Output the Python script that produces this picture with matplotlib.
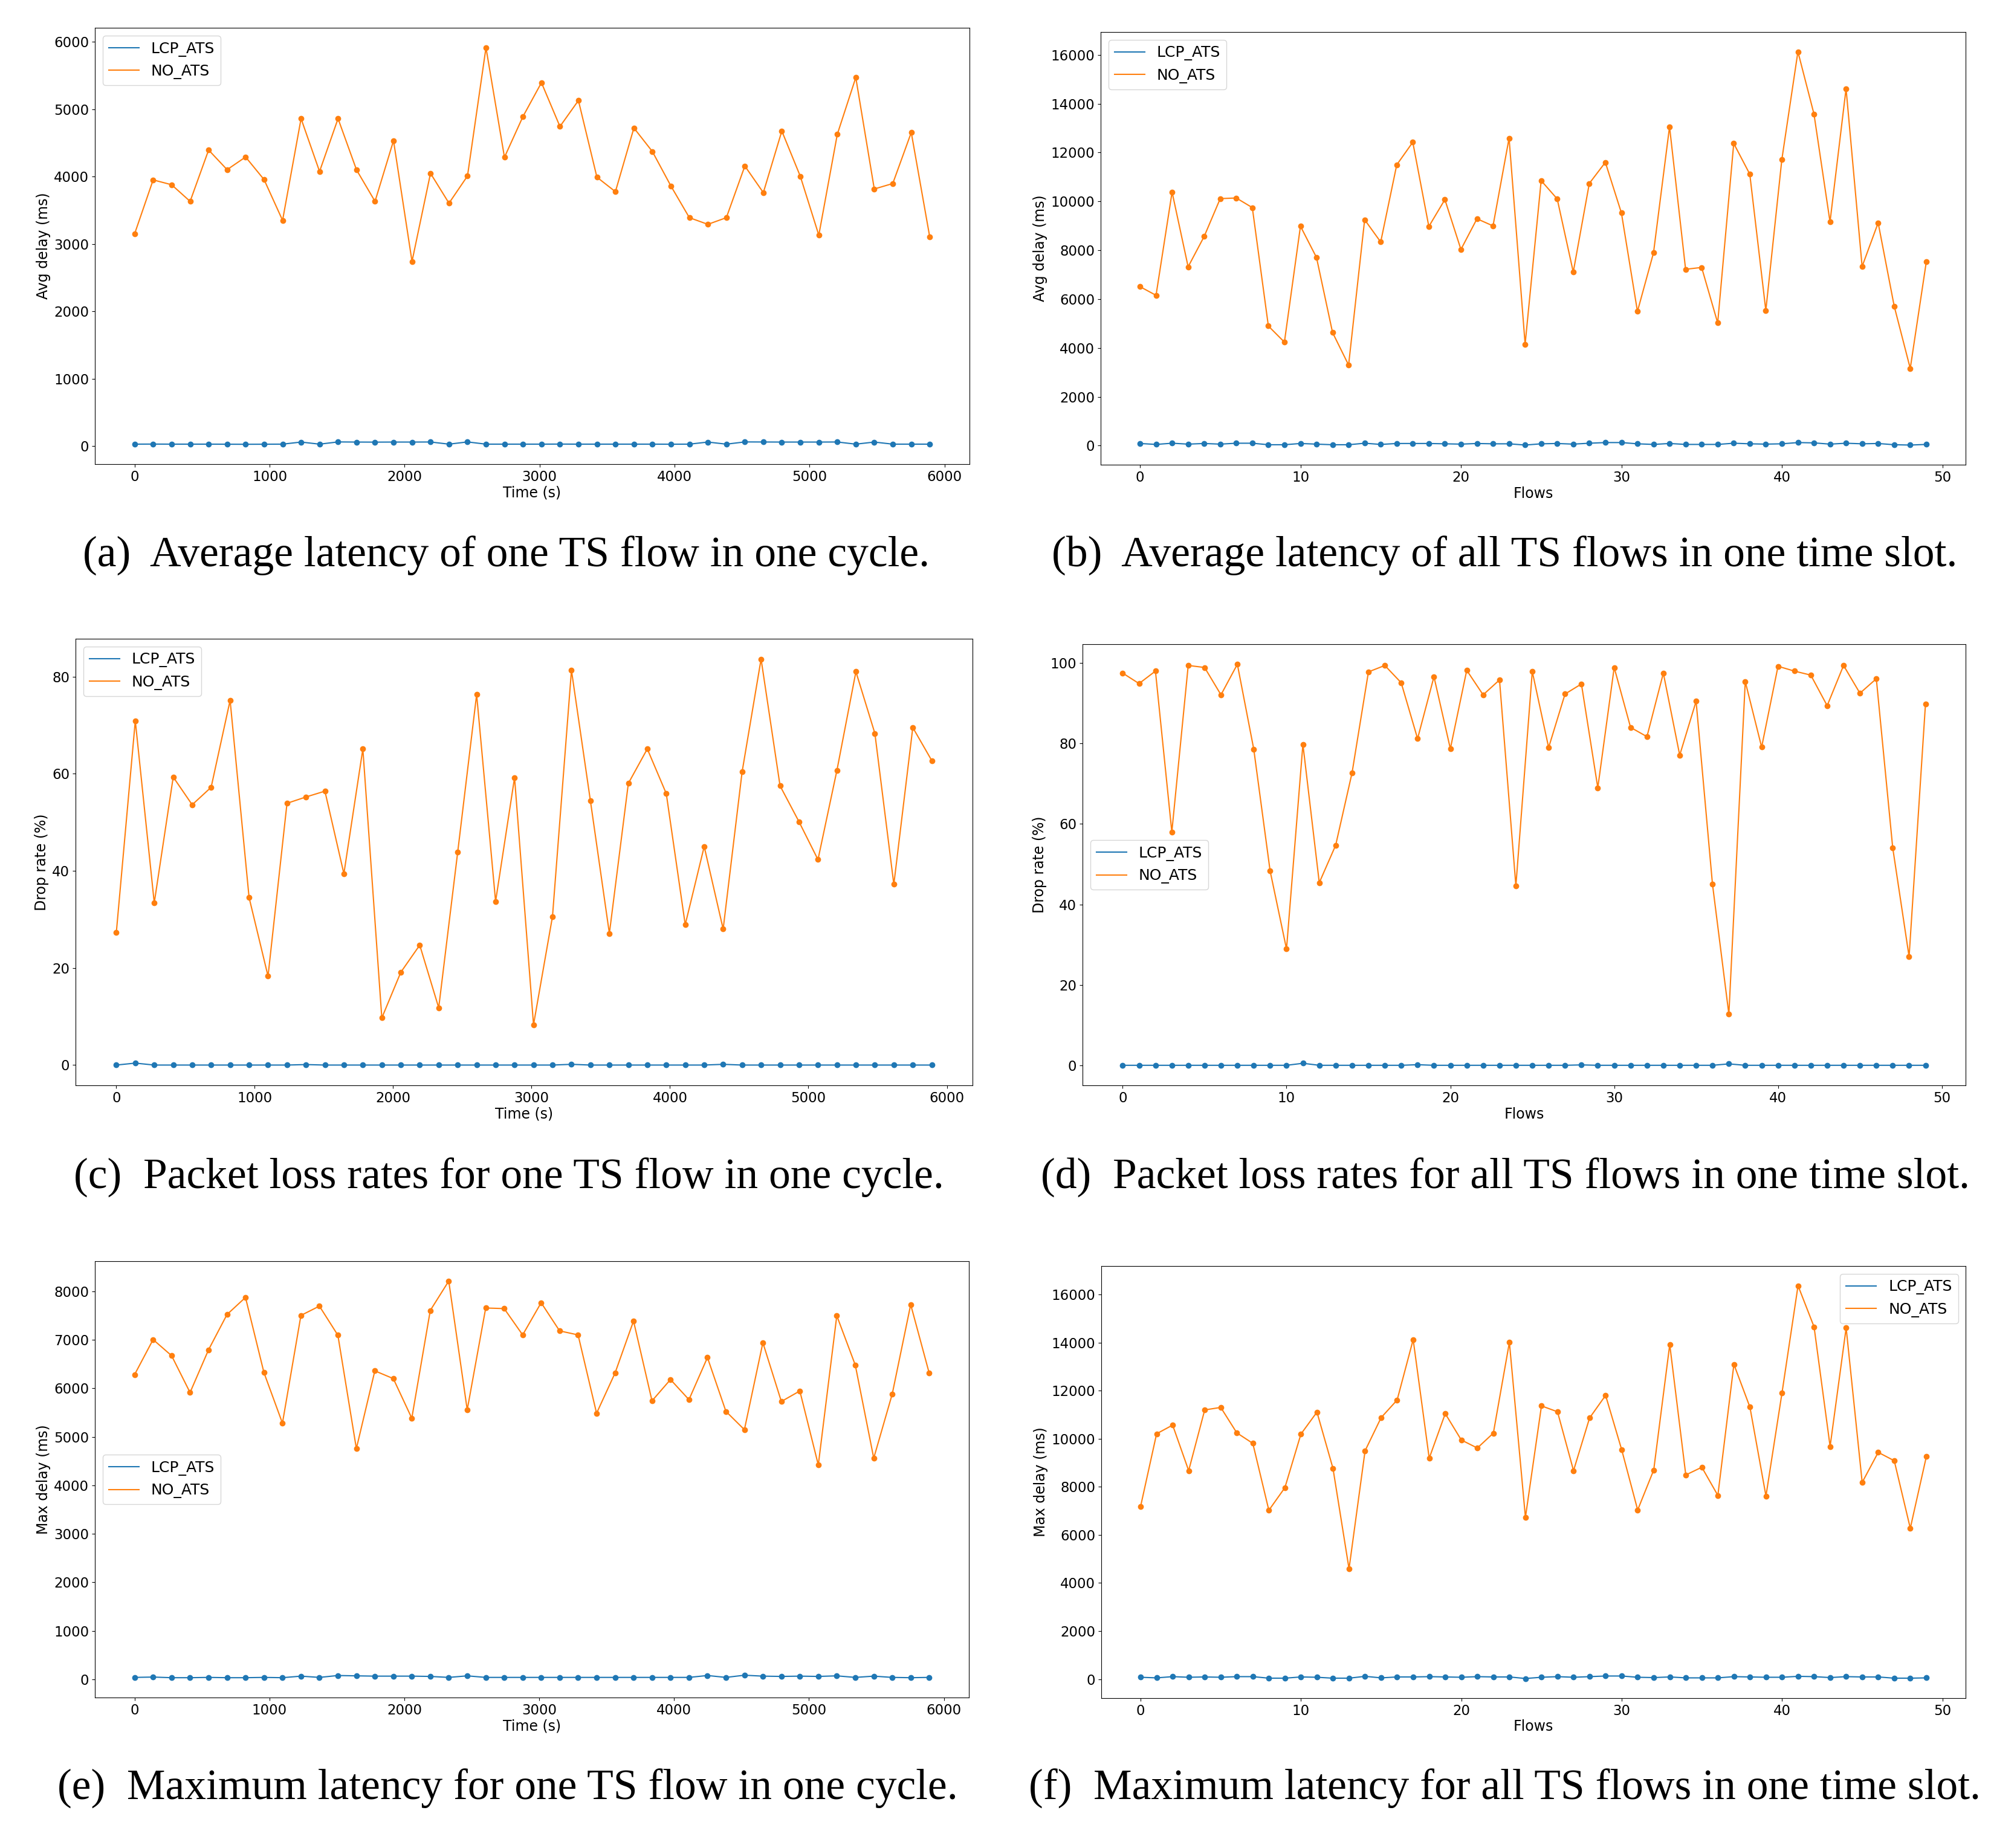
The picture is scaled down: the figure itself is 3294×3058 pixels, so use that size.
import matplotlib
matplotlib.use("Agg")
import matplotlib.pyplot as plt

# x values
time_s = [0, 137, 274, 411, 548, 685, 822, 959, 1096, 1233, 1370, 1507, 1644, 1781,
          1918, 2055, 2192, 2329, 2466, 2603, 2740, 2877, 3014, 3151, 3288, 3425, 3562,
          3699, 3836, 3973, 4110, 4247, 4384, 4521, 4658, 4795, 4932, 5069, 5206, 5343,
          5480, 5617, 5754, 5891]
flows = list(range(50))

# (a) avg delay per time
avg_time_no = [3152, 3951, 3879, 3632, 4395, 4103, 4291, 3955, 3350, 4861, 4076, 4861,
               4099, 3632, 4534, 2740, 4049, 3605, 4009, 5915, 4287, 4892, 5395, 4744,
               5130, 3991, 3776, 4722, 4372, 3861, 3390, 3291, 3390, 4157, 3762, 4677,
               4004, 3130, 4628, 5471, 3816, 3897, 4655, 3103]
avg_time_lcp = [27, 28, 27, 27, 27, 26, 25, 26, 27, 58, 27, 60, 58, 57, 58, 58, 59, 27,
                60, 27, 27, 27, 27, 28, 27, 27, 27, 27, 27, 26, 27, 58, 27, 60, 59, 58,
                58, 58, 59, 27, 58, 27, 27, 27]

# (b) avg delay per flow
avg_flow_no = [6510, 6155, 10381, 7322, 8566, 10114, 10140, 9746, 4898, 4239, 8985, 7703,
               4632, 3300, 9251, 8338, 11497, 12424, 8972, 10076, 8033, 9289, 8997, 12589,
               4150, 10850, 10102, 7107, 10736, 11599, 9530, 5495, 7893, 13058, 7221, 7297,
               5025, 12373, 11117, 5533, 11726, 16129, 13579, 9162, 14619, 7335, 9124,
               5711, 3160, 7525]
avg_flow_lcp = [89, 51, 100, 63, 89, 63, 100, 100, 38, 38, 89, 63, 38, 38, 100, 51, 89, 89,
                89, 76, 63, 89, 76, 76, 25, 76, 89, 63, 100, 127, 127, 76, 51, 89, 51, 51,
                51, 100, 76, 63, 76, 127, 114, 63, 100, 76, 89, 38, 25, 51]

# (c) drop rate per time
drop_time_no = [27.3, 70.9, 33.4, 59.3, 53.6, 57.2, 75.1, 34.5, 18.3, 53.9, 55.2, 56.4,
                39.4, 65.1, 9.7, 19.1, 24.7, 11.8, 43.8, 76.3, 33.7, 59.2, 8.3, 30.6,
                81.3, 54.4, 27.1, 58.0, 65.1, 55.9, 28.9, 45.0, 28.0, 60.4, 83.6, 57.5,
                50.1, 42.3, 60.7, 81.0, 68.3, 37.2, 69.5, 62.7]
drop_time_lcp = [0.0, 0.4, 0.0, 0.0, 0.0, 0.0, 0.0, 0.0, 0.0, 0.0, 0.1, 0.0, 0.0, 0.0,
                 0.0, 0.0, 0.0, 0.0, 0.0, 0.0, 0.0, 0.0, 0.0, 0.0, 0.15, 0.0, 0.0, 0.0,
                 0.0, 0.0, 0.0, 0.0, 0.15, 0.0, 0.0, 0.0, 0.0, 0.0, 0.0, 0.0, 0.0, 0.0,
                 0.0, 0.0]

# (d) drop rate per flow
drop_flow_no = [97.5, 94.9, 98.0, 58.0, 99.4, 98.9, 92.1, 99.7, 78.6, 48.3, 28.9, 79.8,
                45.4, 54.7, 72.7, 97.8, 99.4, 95.1, 81.2, 96.6, 78.7, 98.2, 92.1, 95.8,
                44.6, 97.9, 79.0, 92.3, 94.8, 69.0, 98.9, 84.0, 81.7, 97.5, 77.1, 90.5,
                45.0, 12.7, 95.4, 79.1, 99.2, 98.0, 97.0, 89.4, 99.4, 92.5, 96.1, 54.1,
                27.0, 89.8]
drop_flow_lcp = [0.0] * 11 + [0.5] + [0.0] * 6 + [0.15] + [0.0] * 9 + [0.1] + [0.0] * 8 + \
                [0.35] + [0.0] * 12

# (e) max delay per time
max_time_no = [6284, 7005, 6673, 5913, 6794, 7522, 7874, 6322, 5281, 7503, 7695, 7095,
               4757, 6360, 6200, 5383, 7605, 8212, 5556, 7656, 7644, 7101, 7765, 7184,
               7101, 5485, 6315, 7388, 5741, 6181, 5766, 6635, 5524, 5147, 6941, 5728,
               5945, 4419, 7497, 6481, 4559, 5881, 7727, 6315]
max_time_lcp = [38, 45, 32, 32, 38, 32, 32, 38, 32, 64, 38, 77, 70, 64, 64, 64, 58, 38,
                70, 38, 38, 38, 38, 38, 38, 38, 38, 38, 38, 38, 38, 77, 38, 83, 64, 58,
                64, 58, 70, 38, 64, 38, 32, 38]

# (f) max delay per flow
max_flow_no = [7178, 10206, 10567, 8673, 11198, 11302, 10245, 9807, 7023, 7964, 10193,
               11108, 8763, 4588, 9497, 10876, 11611, 14124, 9188, 11044, 9948, 9613,
               10232, 14008, 6727, 11366, 11121, 8673, 10863, 11804, 9549, 7036, 8698,
               13918, 8492, 8814, 7642, 13093, 11314, 7616, 11907, 16366, 14652, 9678,
               14613, 8183, 9433, 9085, 6276, 9253]
max_flow_lcp = [77, 52, 103, 77, 90, 77, 103, 103, 39, 39, 90, 77, 39, 39, 116, 52, 90, 90,
                103, 90, 77, 103, 90, 90, 26, 77, 103, 77, 103, 129, 129, 77, 64, 90, 52,
                52, 52, 103, 90, 77, 77, 116, 103, 64, 103, 90, 90, 39, 39, 52]

W, H = 3294, 3058
fig = plt.figure(figsize=(W / 100, H / 100), dpi=100)


def box(x0, y0, x1, y1):
    return [x0 / W, 1 - y1 / H, (x1 - x0) / W, (y1 - y0) / H]


def panel(rect, x, lcp, no, xlabel, ylabel, loc):
    ax = fig.add_axes(rect)
    ax.plot(x, lcp, color='#1f77b4', lw=1.5, label='LCP_ATS')
    ax.plot(x, no, color='#ff7f0e', lw=1.5, label='NO_ATS')
    ax.plot(x, lcp, 'o', color='#1f77b4', ms=6)
    ax.plot(x, no, 'o', color='#ff7f0e', ms=6)
    ax.set_xlabel(xlabel, fontsize=17, labelpad=2)
    ax.set_ylabel(ylabel, fontsize=17)
    ax.tick_params(labelsize=16.5)
    ax.legend(loc=loc, fontsize=18)
    return ax


panel(box(157, 46, 1604, 768), time_s, avg_time_lcp, avg_time_no, 'Time (s)', 'Avg delay (ms)', 'upper left')
panel(box(1821, 53, 3252, 769), flows, avg_flow_lcp, avg_flow_no, 'Flows', 'Avg delay (ms)', 'upper left')
panel(box(125, 1057, 1609, 1796), time_s, drop_time_lcp, drop_time_no, 'Time (s)', 'Drop rate (%)', 'upper left')
panel(box(1791, 1066, 3252, 1796), flows, drop_flow_lcp, drop_flow_no, 'Flows', 'Drop rate (%)', 'center left')
panel(box(157, 2087, 1603, 2809), time_s, max_time_lcp, max_time_no, 'Time (s)', 'Max delay (ms)', 'center left')
panel(box(1822, 2095, 3252, 2810), flows, max_flow_lcp, max_flow_no, 'Flows', 'Max delay (ms)', 'upper right')

captions = [
    (838, 938, '(a)  Average latency of one TS flow in one cycle.'),
    (2489, 938, '(b)  Average latency of all TS flows in one time slot.'),
    (842, 1967, '(c)  Packet loss rates for one TS flow in one cycle.'),
    (2490, 1967, '(d)  Packet loss rates for all TS flows in one time slot.'),
    (840, 2978, '(e)  Maximum latency for one TS flow in one cycle.'),
    (2490, 2978, '(f)  Maximum latency for all TS flows in one time slot.'),
]
for cx, cy, txt in captions:
    fig.text(cx / W, 1 - cy / H, txt, ha='center', va='baseline',
             fontsize=51.5, family='Liberation Serif')

fig.savefig('out.png', dpi=100)
